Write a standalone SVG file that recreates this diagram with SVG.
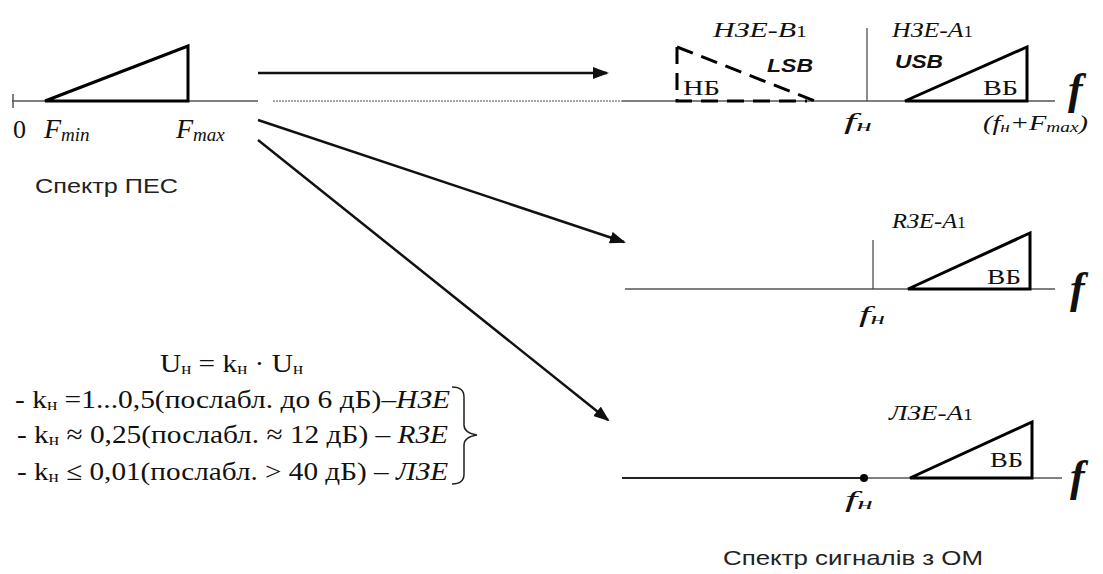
<svg xmlns="http://www.w3.org/2000/svg" width="1103" height="574" viewBox="0 0 1103 574">
<style>
.s{font-family:"Liberation Serif","Times New Roman",serif;fill:#111}
.i{font-style:italic}
.sans{font-family:"Liberation Sans",Arial,sans-serif;fill:#222}
.bi{font-family:"Liberation Sans",Arial,sans-serif;font-weight:bold;font-style:italic;fill:#111}
.ax{stroke:#555;stroke-width:1.5;fill:none}
.tri{stroke:#000;stroke-width:3;fill:none;stroke-linejoin:miter;stroke-linecap:square}
.dash{stroke:#000;stroke-width:3;fill:none;stroke-dasharray:17 9}
.arr{stroke:#111;stroke-width:2.5;fill:none}
.thin{stroke:#444;stroke-width:1.2}
.big{font-size:44px;font-weight:bold}
</style>
<defs>
<marker id="ah" markerWidth="16" markerHeight="12" refX="14" refY="6" orient="auto" markerUnits="userSpaceOnUse">
<path d="M0,0 L16,6 L0,12 z" fill="#111"/>
</marker>
</defs>

<g id="source-spectrum">
<line class="ax" x1="12" y1="101" x2="258" y2="101"/>
<line class="ax" x1="13" y1="94" x2="13" y2="108"/>
<path class="tri" d="M45,101 L188,46 L188,101 Z"/>
<text class="s" x="13" y="138" font-size="26">0</text>
<text class="s i" x="44" y="138" font-size="28">F<tspan font-size="19" dy="3">min</tspan></text>
<text class="s i" x="176" y="138" font-size="28">F<tspan font-size="19" dy="3">max</tspan></text>
<text class="sans" x="35" y="193" font-size="21" textLength="143" lengthAdjust="spacingAndGlyphs">Спектр ПЕС</text>
</g>

<g id="dsb-spectrum">
<line x1="273" y1="101" x2="622" y2="101" stroke="#888" stroke-width="1.5" stroke-dasharray="2 1"/>
<line class="ax" x1="622" y1="101" x2="1055" y2="101"/>
<line class="thin" x1="867" y1="28" x2="867" y2="101"/>
<path class="dash" d="M677,47 L677,101 L807,101" stroke-dasharray="12 8"/>
<path class="dash" d="M677,47 L815,101"/>
<path class="tri" d="M905,101 L1027,47 L1027,101 Z"/>
<text class="s i" x="713" y="37" font-size="22" textLength="94" lengthAdjust="spacingAndGlyphs">НЗЕ-В<tspan font-style="normal" font-size="16">1</tspan></text>
<text class="s i" x="892" y="37" font-size="22" textLength="81" lengthAdjust="spacingAndGlyphs">НЗЕ-А<tspan font-style="normal" font-size="16">1</tspan></text>
<text class="bi" x="767" y="72" font-size="19" textLength="46" lengthAdjust="spacingAndGlyphs">LSB</text>
<text class="bi" x="895" y="68" font-size="19" textLength="48" lengthAdjust="spacingAndGlyphs">USB</text>
<text class="s" x="683" y="95" font-size="22" textLength="37" lengthAdjust="spacingAndGlyphs">НБ</text>
<text class="s" x="983" y="95" font-size="22" textLength="35" lengthAdjust="spacingAndGlyphs">ВБ</text>
<text class="s i big" x="1068" y="104">f</text>
<text class="s i" x="844" y="129" font-size="24" textLength="28" lengthAdjust="spacingAndGlyphs">f<tspan font-size="17" dy="2">н</tspan></text>
<text class="s i" x="983" y="130" font-size="22" textLength="105" lengthAdjust="spacingAndGlyphs">(f<tspan font-size="15" dy="2">н</tspan><tspan dy="-2">+F</tspan><tspan font-size="15" dy="2">max</tspan><tspan dy="-2">)</tspan></text>
</g>

<g id="rc-spectrum">
<line class="ax" x1="625" y1="289" x2="1055" y2="289"/>
<line class="thin" x1="873" y1="240" x2="873" y2="289"/>
<path class="tri" d="M908,289 L1030,233 L1030,289 Z"/>
<text class="s i" x="892" y="228" font-size="22" textLength="74" lengthAdjust="spacingAndGlyphs">RЗЕ-А<tspan font-style="normal" font-size="16">1</tspan></text>
<text class="s" x="987" y="284" font-size="22" textLength="34" lengthAdjust="spacingAndGlyphs">ВБ</text>
<text class="s i big" x="1070" y="303">f</text>
<text class="s i" x="859" y="322" font-size="24" textLength="26" lengthAdjust="spacingAndGlyphs">f<tspan font-size="17" dy="2">н</tspan></text>
</g>

<g id="sc-spectrum">
<line x1="622" y1="478" x2="864" y2="478" stroke="#222" stroke-width="2"/>
<line class="ax" x1="864" y1="478" x2="1062" y2="478"/>
<circle cx="864" cy="478" r="4" fill="#000"/>
<path class="tri" d="M910,478 L1032,422 L1032,478 Z"/>
<text class="s i" x="889" y="420" font-size="22" textLength="84" lengthAdjust="spacingAndGlyphs">ЛЗЕ-А<tspan font-style="normal" font-size="16">1</tspan></text>
<text class="s" x="990" y="467" font-size="22" textLength="33" lengthAdjust="spacingAndGlyphs">ВБ</text>
<text class="s i big" x="1070" y="491">f</text>
<text class="s i" x="845" y="507" font-size="24" textLength="28" lengthAdjust="spacingAndGlyphs">f<tspan font-size="17" dy="2">н</tspan></text>
<text class="sans" x="723" y="565" font-size="21" textLength="260" lengthAdjust="spacingAndGlyphs">Спектр сигналів з ОМ</text>
</g>

<g id="formula">
<text class="s" x="160" y="372" font-size="25" textLength="143" lengthAdjust="spacingAndGlyphs">U<tspan font-size="16" dy="2">н</tspan><tspan dy="-2"> = k</tspan><tspan font-size="16" dy="2">н</tspan><tspan dy="-2"> · U</tspan><tspan font-size="16" dy="2">н</tspan></text>
<text class="s" x="15" y="408" font-size="26" textLength="435" lengthAdjust="spacingAndGlyphs">- k<tspan font-size="17" dy="2">н</tspan><tspan dy="-2"> =1...0,5(послабл. до 6 дБ)–</tspan><tspan font-style="italic">НЗЕ</tspan></text>
<text class="s" x="17" y="443" font-size="26" textLength="431" lengthAdjust="spacingAndGlyphs">- k<tspan font-size="17" dy="2">н</tspan><tspan dy="-2"> ≈ 0,25(послабл. ≈ 12 дБ) – </tspan><tspan font-style="italic">RЗЕ</tspan></text>
<text class="s" x="17" y="480" font-size="26" textLength="431" lengthAdjust="spacingAndGlyphs">- k<tspan font-size="17" dy="2">н</tspan><tspan dy="-2"> ≤ 0,01(послабл. &gt; 40 дБ) – </tspan><tspan font-style="italic">ЛЗЕ</tspan></text>
<path d="M452,387 Q464,387 464,397 L464,425 Q464,433 477,435 Q464,437 464,445 L464,474 Q464,484 452,484" fill="none" stroke="#222" stroke-width="1.5"/>
</g>

<g id="connectors">
<line class="arr" x1="258" y1="73" x2="607" y2="73" marker-end="url(#ah)"/>
<line class="arr" x1="258" y1="120" x2="624" y2="242" marker-end="url(#ah)"/>
<line class="arr" x1="258" y1="140" x2="608" y2="420" marker-end="url(#ah)"/>
</g>
</svg>
